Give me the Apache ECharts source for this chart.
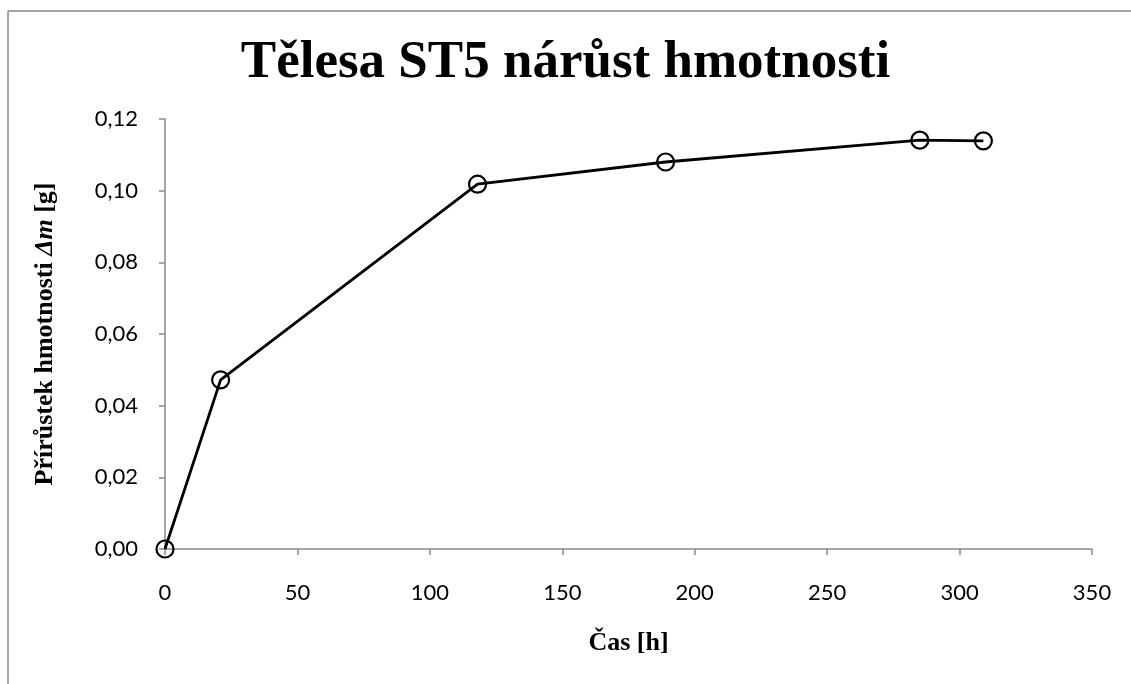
<!DOCTYPE html>
<html>
<head>
<meta charset="utf-8">
<script src="https://cdn.jsdelivr.net/npm/echarts@6/dist/echarts.min.js"></script>
<style>
  html, body { margin: 0; padding: 0; background: #ffffff; }
  #chart { width: 1131px; height: 684px; }
</style>
</head>
<body>
<div id="chart"></div>
<script>
// Elapsed time [h] and mass gain [g] for specimens ST5
const hours = [0, 21, 118, 189, 285, 309];
const massGain = [0, 0.0472, 0.1018, 0.1080, 0.1141, 0.1139];

const titleText = 'Tělesa ST5 nárůst hmotnosti';
const xName = 'Čas [h]';

const chart = echarts.init(document.getElementById('chart'), null, { renderer: 'canvas' });

const axisGray = '#898989';
const tickFont = 'Lato, "Open Sans", sans-serif';
const serif = '"Liberation Serif", "DejaVu Serif", serif';

chart.setOption({
  backgroundColor: '#ffffff',
  animation: false,
  title: {
    text: titleText,
    left: 'center',
    top: 32,
    textStyle: { fontFamily: serif, fontWeight: 'bold', fontSize: 53, color: '#000' }
  },
  graphic: [
    { type: 'line', shape: { x1: 8, y1: 11, x2: 8, y2: 684 }, style: { stroke: '#a6a6a6', lineWidth: 2 } },
    { type: 'line', shape: { x1: 8, y1: 11, x2: 1131, y2: 11 }, style: { stroke: '#a6a6a6', lineWidth: 2 } }
  ],
  grid: { left: 165, right: 39, top: 119, bottom: 135, containLabel: false },
  xAxis: {
    type: 'value',
    min: 0, max: 350, interval: 50,
    name: xName,
    nameLocation: 'middle',
    nameGap: 81,
    nameTextStyle: { fontFamily: serif, fontWeight: 'bold', fontSize: 26, color: '#000' },
    axisLine: { show: true, lineStyle: { color: axisGray, width: 1.5 } },
    axisTick: { show: true, length: 6, lineStyle: { color: axisGray, width: 1.5 } },
    axisLabel: { margin: 33, fontFamily: tickFont, fontSize: 22, color: '#000' },
    splitLine: { show: false }
  },
  yAxis: {
    type: 'value',
    min: 0, max: 0.12, interval: 0.02,
    name: '{n|Přírůstek hmotnosti }{i|Δm}{n| [g]}',
    nameLocation: 'middle',
    nameRotate: 90,
    nameGap: 107,
    nameTextStyle: {
      rich: {
        n: { fontFamily: serif, fontWeight: 'bold', fontSize: 26, color: '#000' },
        i: { fontFamily: serif, fontWeight: 'bold', fontStyle: 'italic', fontSize: 26, color: '#000' }
      }
    },
    axisLine: { show: true, lineStyle: { color: axisGray, width: 1.5 } },
    axisTick: { show: true, length: 6, lineStyle: { color: axisGray, width: 1.5 } },
    axisLabel: {
      margin: 27, fontFamily: tickFont, fontSize: 22, color: '#000',
      formatter: v => v.toFixed(2).replace('.', ',')
    },
    splitLine: { show: false }
  },
  series: [{
    type: 'line',
    data: hours.map((h, i) => [h, massGain[i]]),
    symbol: 'circle',
    symbolSize: 17,
    lineStyle: { color: '#000', width: 2.8 },
    itemStyle: { color: 'rgba(0,0,0,0)', borderColor: '#000', borderWidth: 2.2 },
    z: 5
  }]
});
</script>
</body>
</html>
